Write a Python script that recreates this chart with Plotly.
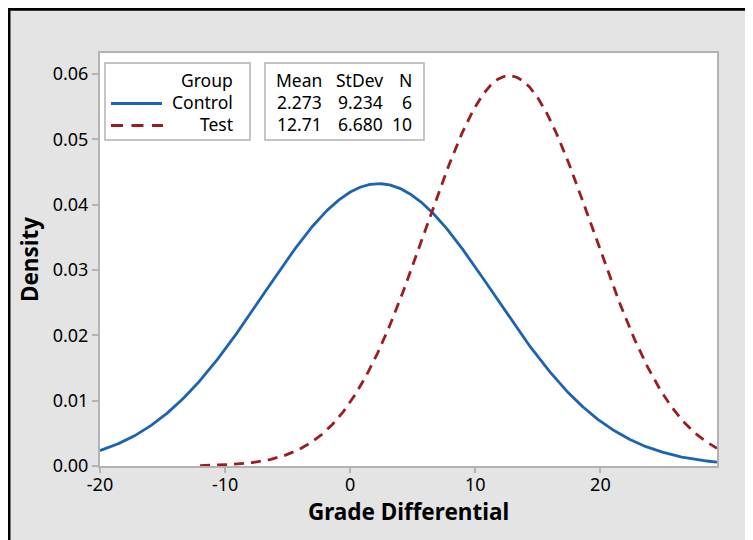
import numpy as np
import plotly.graph_objects as go

groups = ["Control", "Test"]
means = [2.273, 12.71]
stdevs = [9.234, 6.680]
counts = [6, 10]
x_starts = [-20.0, -12.0]     # curve drawn from
x_end = 29.32                 # right edge of x axis
x_ticks = [-20, -10, 0, 10, 20]
y_ticks = [0.00, 0.01, 0.02, 0.03, 0.04, 0.05, 0.06]

colors = ["#1d63b3", "#9c1c1f"]
dashes = ["solid", "10px,7px"]

OFF = 8                       # page body margin
W, H = 753, 540               # figure size
L, R, T, B = 100, 717, 53, 466  # plot area in page pixels


def px(x):
    return (x - L) / (R - L)


def py(y):
    return (B - y) / (B - T)


fig = go.Figure()
for g, m, s, x0, c, d in zip(groups, means, stdevs, x_starts, colors, dashes):
    xs = np.linspace(x0, x_end, 600)
    ys = np.exp(-0.5 * ((xs - m) / s) ** 2) / (s * np.sqrt(2 * np.pi))
    fig.add_trace(go.Scatter(x=xs, y=ys, mode="lines", name=g,
                             line=dict(color=c, width=2.8, dash=d),
                             showlegend=False, hoverinfo="skip"))

font_family = "Noto Sans, Open Sans, DejaVu Sans, sans-serif"
axis_gray = "#b3b3b3"

fig.update_layout(
    width=W, height=H,
    margin=dict(l=L - OFF, r=W - (R - OFF), t=T - OFF, b=H - (B - OFF)),
    paper_bgcolor="#e4e4e4",
    plot_bgcolor="white",
    font=dict(family=font_family, size=17, color="black"),
    xaxis=dict(range=[-20, x_end], tickvals=x_ticks, ticktext=[str(v) for v in x_ticks],
               ticks="outside", ticklen=5, tickwidth=1.5, tickcolor=axis_gray,
               showgrid=False, zeroline=False, showline=True, mirror=True,
               linecolor=axis_gray, linewidth=2, ticklabelstandoff=-4,
               tickfont=dict(size=18),
               title=dict(text="<b>Grade Differential</b>", font=dict(size=22.5), standoff=6)),
    yaxis=dict(range=[0, 0.0632], tickvals=y_ticks, ticktext=[f"{v:.2f}" for v in y_ticks],
               ticks="outside", ticklen=6, tickwidth=1.5, tickcolor=axis_gray,
               showgrid=False, zeroline=False, showline=True, mirror=True,
               linecolor=axis_gray, linewidth=2,
               tickfont=dict(size=18),
               title=dict(text="<b>Density</b>", font=dict(size=22.5), standoff=8)),
)

shapes = []
# black frame (left and top edges visible)
shapes.append(dict(type="rect", xref="paper", yref="paper", x0=px(9), x1=px(W + 40), y0=py(H + 40), y1=py(9.2),
                   fillcolor="rgba(0,0,0,0)", line=dict(color="black", width=3), layer="above"))
# legend boxes
for bx0, bx1 in [(105, 250), (265, 424)]:
    shapes.append(dict(type="rect", xref="paper", yref="paper", x0=px(bx0), x1=px(bx1), y0=py(140), y1=py(63),
                       fillcolor="white", line=dict(color=axis_gray, width=1.5), layer="above"))
# legend line samples
shapes.append(dict(type="line", xref="paper", yref="paper", x0=px(111), x1=px(162), y0=py(103.5), y1=py(103.5),
                   line=dict(color=colors[0], width=2.8), layer="above"))
shapes.append(dict(type="line", xref="paper", yref="paper", x0=px(111), x1=px(163), y0=py(125.5), y1=py(125.5),
                   line=dict(color=colors[1], width=2.8, dash="12px,8.5px"), layer="above"))
fig.update_layout(shapes=shapes)

ann = []


def text(t, x, y, anchor="right", size=17.5):
    ann.append(dict(text=t, xref="paper", yref="paper", x=px(x), y=py(y), xanchor=anchor, yanchor="middle",
                    showarrow=False, font=dict(size=size, family=font_family, color="black")))


text("Group", 235, 80)
for g, y in zip(groups, [102, 124]):
    text(g, 235, y)
text("Mean", 324, 80)
text("StDev", 385, 80)
text("N", 414, 80)
for m, s, n, y in zip(means, stdevs, counts, [102, 124]):
    text(f"{m:.4g}" if m < 10 else f"{m:.2f}", 324, y)
    text(f"{s:.3f}", 385, y)
    text(str(n), 414, y)
fig.update_layout(annotations=ann)

fig.write_html("out.html")
